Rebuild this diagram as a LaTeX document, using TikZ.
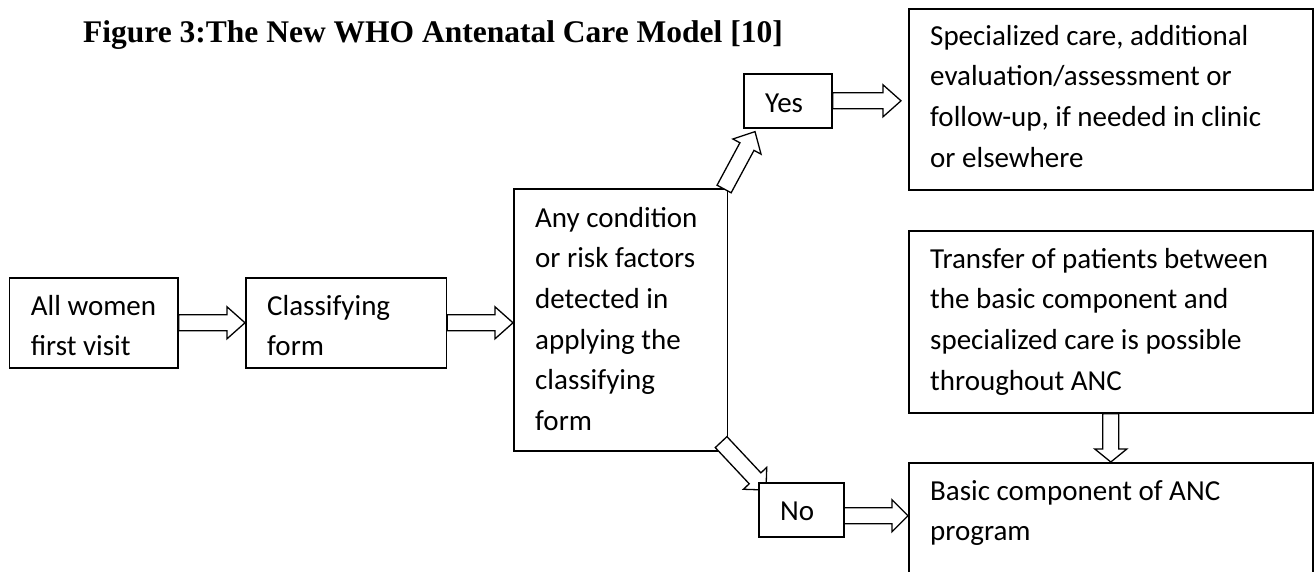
\documentclass[tikz,border=0pt]{standalone}
\usepackage{fontspec}
\setmainfont{Carlito}
\newfontfamily\titlefont{Liberation Serif}
\usetikzlibrary{calc}

\pgfdeclarelayer{front}
\pgfsetlayers{main,front}

\newcommand{\bodyfont}{\fontsize{29}{40.7}\selectfont}

% block arrow: [head length]{tail}{tip}
\newcommand{\blockarrow}[3][18]{%
  \coordinate (ba) at ($(#3)!#1pt!(#2)$);
  \draw[fatarrow] ($(#2)!8pt!90:(#3)$) -- ($(ba)!8pt!90:(#3)$) -- ($(ba)!16pt!90:(#3)$) -- (#3)
    -- ($(ba)!16pt!-90:(#3)$) -- ($(ba)!8pt!-90:(#3)$) -- ($(#2)!8pt!-90:(#3)$) -- cycle;
}

\begin{document}
\begin{tikzpicture}[x=1pt, y=-1pt,
    box/.style={draw, fill=white, line width=1.6pt, inner sep=0pt, anchor=north west},
    txt/.style={anchor=base west, inner sep=0pt, align=flush left, text width=390pt, font=\bodyfont},
    fatarrow/.style={draw, fill=white, line width=1.3pt, line join=miter}]
        \useasboundingbox (0,0) rectangle (1314,571);

        % Title
        \node[anchor=base west, inner sep=0pt, font=\titlefont\bfseries\fontsize{31.5}{36}\selectfont] (title) at (83,42)
            {Figure 3:The New WHO Antenatal Care Model [10]};

        % Draw boxes
        \node[box, minimum width=168.3, minimum height=90] (first) at (8.7,277) {};
        \node[box, minimum width=200.5, minimum height=90] (classify) at (245,277) {};
        \node[box, minimum width=213.5, minimum height=262] (cond) at (513,188) {};
        \node[box, minimum width=88, minimum height=54] (yes) at (743,73) {};
        \node[box, minimum width=404, minimum height=181] (spec) at (908,8) {};
        \node[box, minimum width=404, minimum height=182] (transfer) at (908,230) {};
        \node[box, minimum width=404, minimum height=130] (basic) at (908,462) {};
        \begin{pgfonlayer}{front}
            \node[box, minimum width=85, minimum height=54] (no) at (758,482) {};
        \end{pgfonlayer}

        % Texts
        \node[txt] (firsttxt) at ($(first.north west)+(22,38)$) {All women\\first visit};
        \node[txt] (classifytxt) at ($(classify.north west)+(22,38)$) {Classifying\\form};
        \node[txt] (condtxt) at ($(cond.north west)+(22,39)$)
            {Any condition\\or risk factors\\detected in\\applying the\\classifying\\form};
        \node[txt] (yestxt) at ($(yes.north west)+(22,39)$) {Yes};
        \node[txt] (spectxt) at ($(spec.north west)+(22,37)$)
            {Specialized care, additional\\evaluation/assessment or\\follow-up, if needed in clinic\\or elsewhere};
        \node[txt] (transfertxt) at ($(transfer.north west)+(22,38)$)
            {Transfer of patients between\\the basic component and\\specialized care is possible\\throughout ANC};
        \node[txt] (basictxt) at ($(basic.north west)+(22,38)$) {Basic component of ANC\\program};
        \begin{pgfonlayer}{front}
            \node[txt] (notxt) at ($(no.north west)+(22,38)$) {No};
        \end{pgfonlayer}

        % Arrow ends
        \coordinate (condin) at (classify.east -| cond.west);
        \coordinate (yesout) at ($(cond.north east)+(-4,1)$);
        \coordinate (yesin) at ($(yes.south west)+(12,3)$);
        \coordinate (specin) at ($(yes.east -| spec.west)+(-7,0)$);
        \coordinate (noout) at ($(cond.south east)+(-7,-9.5)$);
        \coordinate (noin) at ($(no.north west)+(8,8)$);
        \coordinate (basicout) at ($(no.east)+(-3,6)$);
        \coordinate (basicin) at (basicout -| basic.west);

        % Draw arrows
        \blockarrow{first.east}{classify.west}
        \blockarrow{classify.east}{condin}
        \blockarrow[17]{yesout}{yesin}
        \blockarrow{yes.east}{specin}
        \blockarrow[16]{noout}{noin}
        \blockarrow[16]{basicout}{basicin}
        \blockarrow[13]{transfer.south}{basic.north}
    \end{tikzpicture}
\end{document}
